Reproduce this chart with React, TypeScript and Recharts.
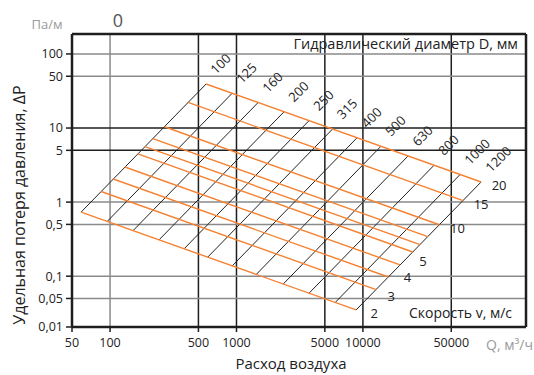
import { LineChart, Line, XAxis, YAxis, ReferenceLine, Customized } from 'recharts';

// diameter lines, D in mm (black)
const diameters = [100, 125, 160, 200, 250, 315, 400, 500, 630, 800, 1000, 1200];
// Q and dP at the v = 2 m/s end of each diameter line
const diamQLow = [59, 95, 152, 244, 385, 591, 923, 1429, 2337, 3752, 6026, 8835];
const diamPLow = [0.733, 0.549, 0.412, 0.309, 0.234, 0.18, 0.137, 0.105, 0.078, 0.059, 0.044, 0.035];
// Q and dP at the v = 20 m/s end
const diamQHigh = [575, 923, 1483, 2380, 3752, 5758, 8997, 13930, 22780, 36570, 58740, 86120];
const diamPHigh = [39.3, 29.4, 22.1, 16.6, 12.6, 9.7, 7.4, 5.7, 4.2, 3.15, 2.36, 1.87];

// velocity lines, m/s (orange)
const velocities = [2, 3, 4, 5, 6, 7, 8, 10, 15, 20];
const velQLeft = [59, 85, 106, 131, 166, 189, 218, 269, 414, 575];
const velPLeft = [0.733, 1.39, 2.05, 2.98, 4.47, 5.62, 7.19, 10.4, 22.2, 39.3];
const velQRight = [8835, 12720, 15910, 19680, 24810, 28340, 32610, 40280, 62030, 86120];
const velPRight = [0.035, 0.066, 0.0975, 0.142, 0.212, 0.267, 0.342, 0.495, 1.05, 1.87];
const velLabelled = [2, 3, 4, 5, 10, 15, 20];

const xTicks = [50, 100, 500, 1000, 5000, 10000, 50000];
const yTicks = [0.0206, 0.05, 0.1, 0.5, 1, 5, 10, 50, 100];
const yTickLabels = ['0,01', '0,05', '0,1', '0,5', '1', '5', '10', '50', '100'];

const X_DOMAIN = [50, 195000];
const Y_DOMAIN = [0.0206, 186];

const FONT = '"Open Sans", sans-serif';
const ORANGE = '#f58232';
const DARK = '#1e1e1e';
const GREY = '#8a8a8a';
const darkX = [500, 1000, 5000, 10000, 50000];
const darkY = [10, 5];

const diamSeries = diameters.map((d, i) => ({
  d,
  data: [
    { q: diamQLow[i], p: diamPLow[i] },
    { q: diamQHigh[i], p: diamPHigh[i] },
  ],
}));

const velSeries = velocities.map((v, i) => ({
  v,
  data: [
    { q: velQLeft[i], p: velPLeft[i] },
    { q: velQRight[i], p: velPRight[i] },
  ],
}));

// small nudges so the velocity numbers sit where the original has them
const velLabelShift: Record<number, [number, number]> = { 5: [5, -7], 4: [1, -3], 3: [-3, 3] };

const Texts = () => (
  <g fontFamily={FONT}>
    <text x={47} y={29} textAnchor="middle" fontSize={13} fill="#9a9a9a">Па/м</text>
    <text x={118} y={27} textAnchor="middle" fontSize={18} fill="#555">0</text>
    <text x={518} y={49} textAnchor="end" fontSize={14.5} fill="#222">Гидравлический диаметр D, мм</text>
    <text x={512} y={318} textAnchor="end" fontSize={14} fill="#222">Скорость v, м/с</text>
    <text x={533} y={350} textAnchor="end" fontSize={14} fill="#9a9a9a">Q, м³/ч</text>
    <text x={291} y={369} textAnchor="middle" fontSize={15} fill="#222">Расход воздуха</text>
    <text
      x={21}
      y={205}
      textAnchor="middle"
      dominantBaseline="middle"
      fontSize={16}
      fill="#222"
      transform="rotate(-90 21 205)"
    >
      Удельная потеря давления, ΔP
    </text>
  </g>
);

export default function App() {
  return (
    <div style={{ position: 'absolute', left: 0, top: 0 }}>
      <LineChart width={534} height={375} margin={{ top: 34, right: 8, left: 0, bottom: 0 }}>
        <XAxis
          type="number"
          dataKey="q"
          scale="log"
          domain={X_DOMAIN}
          allowDataOverflow
          ticks={xTicks}
          tickFormatter={(v) => String(v)}
          height={48}
          tickSize={5}
          tickMargin={6}
          tick={{ fill: '#222', fontSize: 12.5, fontFamily: FONT }}
          axisLine={{ stroke: DARK, strokeWidth: 2.5 }}
          tickLine={{ stroke: DARK, strokeWidth: 1.5 }}
        />
        <YAxis
          type="number"
          dataKey="p"
          scale="log"
          domain={Y_DOMAIN}
          allowDataOverflow
          ticks={yTicks}
          tickFormatter={(v) => yTickLabels[yTicks.indexOf(v)] ?? ''}
          width={72}
          tickSize={6}
          tickMargin={3}
          tick={{ fill: '#222', fontSize: 12.5, fontFamily: FONT }}
          axisLine={{ stroke: DARK, strokeWidth: 2.5 }}
          tickLine={{ stroke: DARK, strokeWidth: 1.5 }}
        />
        {xTicks.slice(1).map((t) => (
          <ReferenceLine
            key={'gx' + t}
            x={t}
            stroke={darkX.includes(t) ? DARK : GREY}
            strokeWidth={1.5}
          />
        ))}
        {yTicks.slice(1).map((t) => (
          <ReferenceLine
            key={'gy' + t}
            y={t}
            stroke={darkY.includes(t) ? DARK : GREY}
            strokeWidth={1.5}
          />
        ))}
        <ReferenceLine y={Y_DOMAIN[1]} stroke={DARK} strokeWidth={2.5} />
        <ReferenceLine x={X_DOMAIN[1]} stroke={DARK} strokeWidth={2.5} />
        {diamSeries.map((s) => (
          <Line
            key={'d' + s.d}
            data={s.data}
            dataKey="p"
            type="linear"
            stroke="#222"
            strokeWidth={1}
            dot={false}
            activeDot={false}
            isAnimationActive={false}
            label={(props: any) =>
              props.index === 1 ? (
                <text
                  key={'dl' + s.d}
                  x={props.x + 10}
                  y={props.y - 9}
                  fontSize={13}
                  fontFamily={FONT}
                  fill="#222"
                  transform={`rotate(-45 ${props.x + 10} ${props.y - 9})`}
                >
                  {s.d}
                </text>
              ) : (
                <g key={'dn' + s.d + props.index} />
              )
            }
          />
        ))}
        {velSeries.map((s) => {
          const [sx, sy] = velLabelShift[s.v] ?? [0, 0];
          return (
            <Line
              key={'v' + s.v}
              data={s.data}
              dataKey="p"
              type="linear"
              stroke={ORANGE}
              strokeWidth={1.4}
              dot={false}
              activeDot={false}
              isAnimationActive={false}
              label={(props: any) =>
                props.index === 1 && velLabelled.includes(s.v) ? (
                  <text
                    key={'vl' + s.v}
                    x={props.x + 18 + sx}
                    y={props.y + 5 + sy}
                    textAnchor="middle"
                    dominantBaseline="middle"
                    fontSize={13}
                    fontFamily={FONT}
                    fill="#222"
                  >
                    {s.v}
                  </text>
                ) : (
                  <g key={'vn' + s.v + props.index} />
                )
              }
            />
          );
        })}
        <Customized component={Texts} />
      </LineChart>
    </div>
  );
}
